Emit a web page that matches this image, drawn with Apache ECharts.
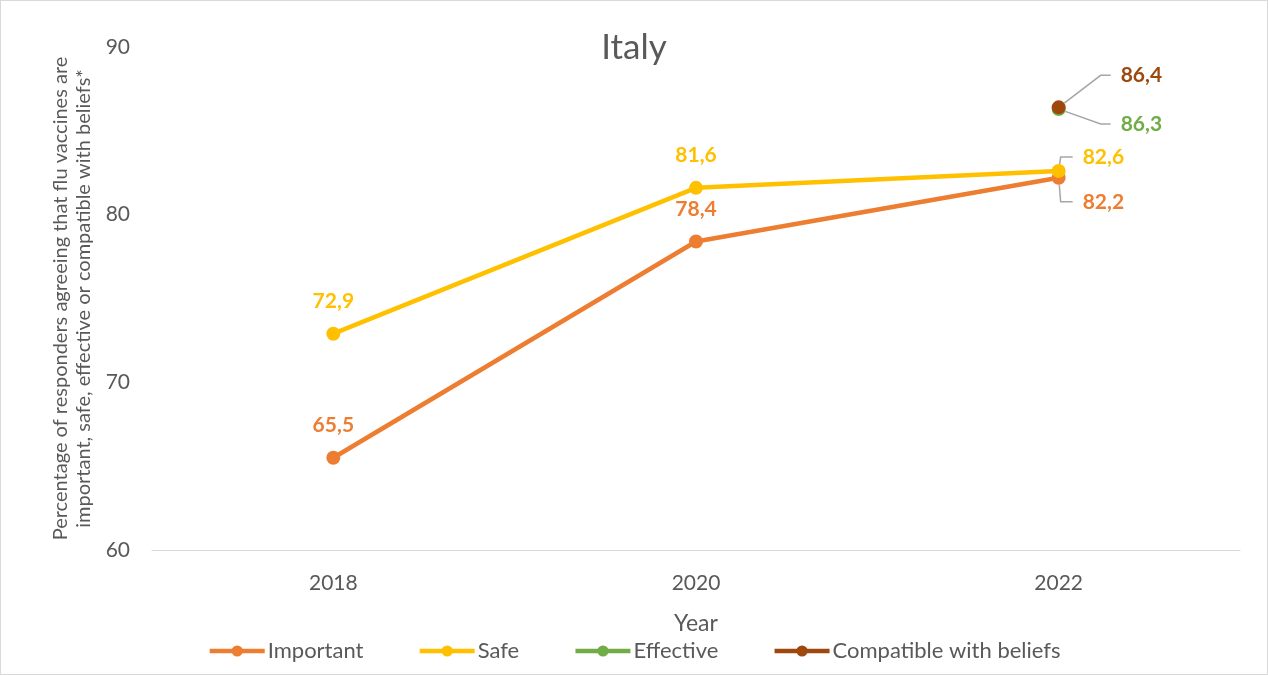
<!DOCTYPE html>
<html>
<head>
<meta charset="utf-8">
<script src="https://cdn.jsdelivr.net/npm/echarts@6/dist/echarts.min.js"></script>
<style>
  html, body { margin: 0; padding: 0; background: #fff; }
  #chart { width: 1266px; height: 673px; border: 1px solid #d9d9d9; }
</style>
</head>
<body>
<div id="chart"></div>
<script>
// Survey years and shares (%) per statement
const years = ['2018', '2020', '2022'];
const important = [65.5, 78.4, 82.2];
const safe = [72.9, 81.6, 82.6];
const effective = [null, null, 86.3];
const compatible = [null, null, 86.4];
const yTicks = [60, 70, 80, 90];

const FONT = 'Lato, "Open Sans", sans-serif';
const GREY = '#595959';
const LEADER = '#a6a6a6';
const fmt = p => p.value == null ? '' : p.value.toFixed(1).replace('.', ',');

// The last point of each series gets its label pushed to the right,
// joined to the marker by a grey leader line. shift = [dx, dy] of the label box.
function series(name, values, color, shift, stub) {
  const last = values.length - 1;
  const data = values.map((v, i) => {
    if (v == null) return null;
    if (i === last && shift) {
      return {
        value: v,
        // transparent box so the padding keeps a gap between leader and text
        label: { padding: [0, 0, 0, 10], backgroundColor: 'rgba(255,255,255,0)' },
        labelLine: { show: true, length2: stub, lineStyle: { color: LEADER, width: 1.5 } }
      };
    }
    return v;
  });
  return {
    name: name,
    type: 'line',
    data: data,
    symbol: 'circle',
    symbolSize: 14,
    lineStyle: { color: color, width: 4.5 },
    itemStyle: { color: color },
    label: {
      show: true,
      position: 'top',
      distance: 15,
      formatter: fmt,
      color: color,
      fontFamily: FONT,
      fontWeight: 'bold',
      fontSize: 21
    },
    labelLine: { show: false },
    labelLayout: function (p) {
      if (p.dataIndex !== last || !shift) return {};
      const cx = p.rect.x + p.rect.width / 2;
      const cy = p.rect.y + p.rect.height / 2;
      return { x: cx + shift[0], y: cy + shift[1], align: 'left', verticalAlign: 'middle' };
    },
    emphasis: { disabled: true },
    animation: false
  };
}

const chart = echarts.init(document.getElementById('chart'));
chart.setOption({
  animation: false,
  title: {
    text: 'Italy',
    left: 'center',
    top: 24,
    textStyle: { fontFamily: FONT, fontSize: 35, fontWeight: 'normal', color: GREY }
  },
  grid: { left: 151, right: 27, top: 46, bottom: 124 },
  xAxis: {
    type: 'category',
    data: years,
    name: 'Year',
    nameLocation: 'middle',
    nameGap: 62,
    nameTextStyle: { fontFamily: FONT, fontSize: 23, color: GREY },
    axisLine: { lineStyle: { color: '#d9d9d9', width: 1 } },
    axisTick: { show: false },
    axisLabel: { fontFamily: FONT, fontSize: 21, color: GREY, margin: 23 }
  },
  yAxis: {
    type: 'value',
    min: yTicks[0],
    max: yTicks[yTicks.length - 1],
    interval: 10,
    name: 'Percentage of responders agreeing that flu vaccines are\nimportant, safe, effective or compatible with beliefs*',
    nameLocation: 'middle',
    nameGap: 56,
    nameTextStyle: { fontFamily: FONT, fontSize: 20, color: GREY, lineHeight: 23 },
    axisLine: { show: false },
    axisTick: { show: false },
    splitLine: { show: false },
    axisLabel: { fontFamily: FONT, fontSize: 21, color: GREY, margin: 22 }
  },
  legend: {
    bottom: 7,
    left: 'center',
    itemWidth: 55,
    itemHeight: 14,
    itemGap: 54,
    lineStyle: { width: 4.5 },
    textStyle: { fontFamily: FONT, fontSize: 22, color: GREY, padding: [0, 0, 0, -2] },
    data: ['Important', 'Safe', 'Effective', 'Compatible with beliefs']
  },
  series: [
    series('Important', important, '#ED7D31', [14, 24], 12),
    series('Safe', safe, '#FFC000', [14, -14], 12),
    series('Effective', effective, '#70AD47', [52, 15], 10),
    series('Compatible with beliefs', compatible, '#9E480E', [52, -32], 10)
  ]
});
</script>
</body>
</html>
